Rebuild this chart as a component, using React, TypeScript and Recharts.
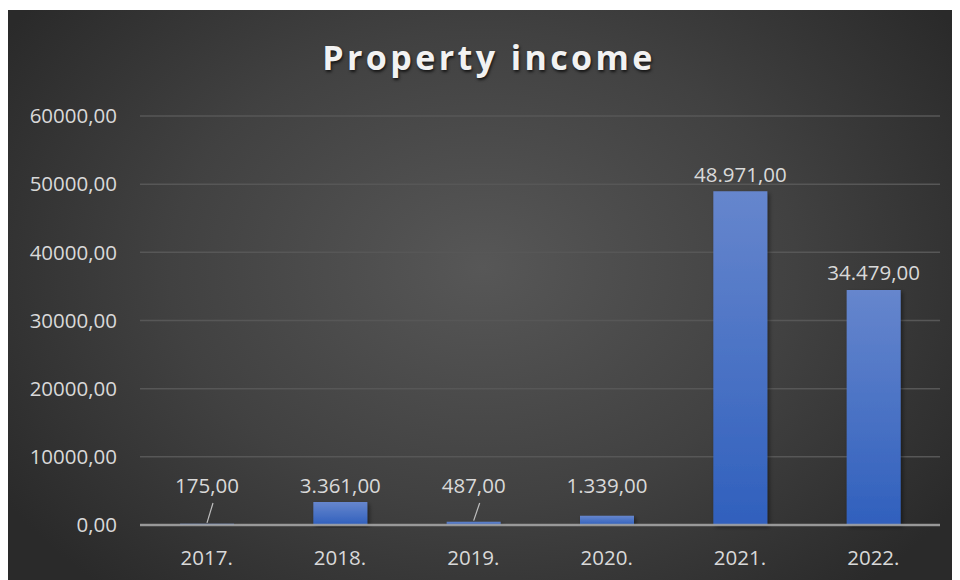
import React from "react";
import { BarChart, Bar, XAxis, YAxis, CartesianGrid, LabelList } from "recharts";

const years = ["2017.", "2018.", "2019.", "2020.", "2021.", "2022."];
const income = [175, 3361, 487, 1339, 48971, 34479];
const yTicks = [0, 10000, 20000, 30000, 40000, 50000, 60000];

const data = years.map((y, i) => ({ year: y, value: income[i] }));

const FONT = "'Open Sans', 'Noto Sans', sans-serif";
const TEXT = "#d9d9d9";

const fmtAxis = (v: number) => v.toFixed(2).replace(".", ",");
const fmtLabel = (v: number) => {
  const [int, dec] = v.toFixed(2).split(".");
  return int.replace(/\B(?=(\d{3})+(?!\d))/g, ".") + "," + dec;
};

const DataLabel = (props: any) => {
  const { x, y, width, value } = props;
  const cx = x + width / 2;
  const labelY = Math.min(y - 15, 478);
  const dist = y - labelY;
  return (
    <g>
      {dist > 30 && (
        <line x1={cx} y1={y - 1} x2={cx + 6} y2={labelY + 15} stroke="#bfbfbf" strokeWidth={1.2} />
      )}
      <text x={cx} y={labelY} textAnchor="middle" dominantBaseline="middle" fill={TEXT} fontSize={20.5} fontFamily={FONT}>
        {fmtLabel(value)}
      </text>
    </g>
  );
};

export default function App() {
  return (
    <div
      style={{
        marginTop: 2,
        width: 949,
        height: 572,
        background: "radial-gradient(ellipse 60% 75% at 50% 45%, #575757 0%, #414141 55%, #2a2a2a 100%)",
        fontFamily: FONT,
      }}
    >
      <BarChart width={949} height={570} data={data} margin={{ top: 106, right: 17, left: 0, bottom: 0 }}>
        <defs>
          <linearGradient id="barGrad" x1="0" y1="0" x2="0" y2="1">
            <stop offset="0%" stopColor="#6686cd" />
            <stop offset="100%" stopColor="#3060bd" />
          </linearGradient>
          <filter id="shadow" x="-20%" y="-5%" width="150%" height="115%">
            <feDropShadow dx="2" dy="2" stdDeviation="2" floodColor="#000" floodOpacity="0.45" />
          </filter>
        </defs>
        <text x={481} y={51} textAnchor="middle" dominantBaseline="middle" fill="#f2f2f2" fontSize={34} fontWeight="bold" fontFamily={FONT} letterSpacing={3.4} style={{ textShadow: "1px 2px 3px rgba(0,0,0,0.7)" }}>
          Property income
        </text>
        <CartesianGrid vertical={false} stroke="#575757" strokeWidth={1.5} />
        <XAxis
          dataKey="year"
          tick={{ fill: TEXT, fontSize: 20.5, fontFamily: FONT }}
          tickLine={false}
          axisLine={{ stroke: "#a6a6a6", strokeWidth: 2.5, strokeOpacity: 0.85 }}
          tickMargin={19}
          height={55}
        />
        <YAxis
          domain={[0, 60000]}
          ticks={yTicks}
          tickFormatter={fmtAxis}
          tick={{ fill: TEXT, fontSize: 20.5, fontFamily: FONT }}
          tickLine={false}
          axisLine={false}
          tickMargin={17}
          width={132}
          interval={0}
        />
        <Bar dataKey="value" fill="url(#barGrad)" barSize={54} isAnimationActive={false} filter="url(#shadow)">
          <LabelList dataKey="value" content={<DataLabel />} />
        </Bar>
      </BarChart>
    </div>
  );
}
